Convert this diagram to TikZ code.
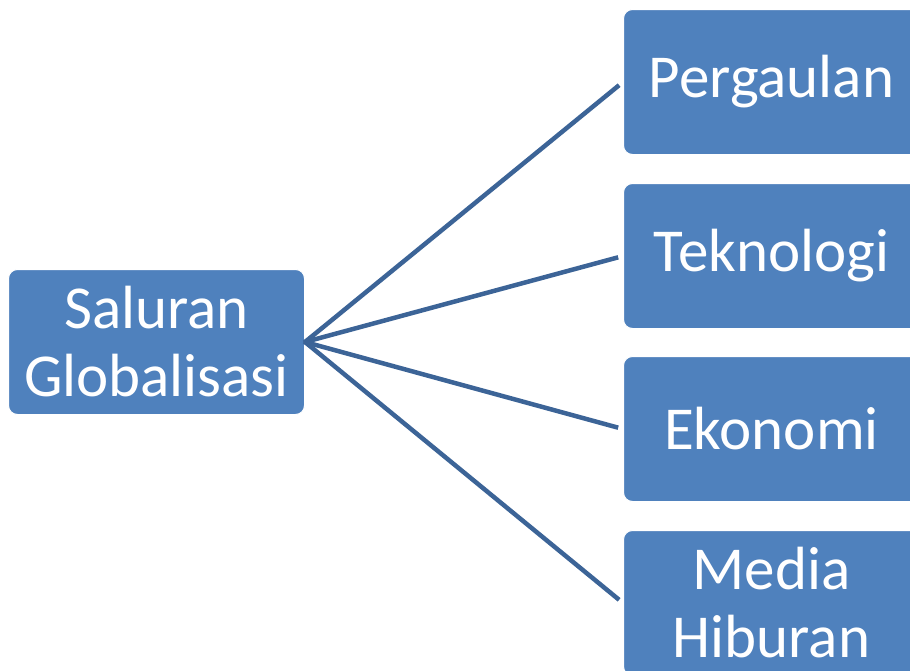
\documentclass[tikz,border=0pt]{standalone}
\usepackage{fontspec}
\setmainfont{Carlito}
\definecolor{boxblue}{HTML}{4F81BD}
\definecolor{linkblue}{HTML}{3C6497}
\begin{document}
\begin{tikzpicture}[x=1pt,y=-1pt,
  box/.style={draw=white,line width=1pt,fill=boxblue,rounded corners=9pt,text=white,
    minimum width=296pt,minimum height=145pt,inner sep=0pt,align=center,
    font=\fontsize{61}{68}\selectfont},
  link/.style={draw=linkblue,line width=4.5pt}]
\useasboundingbox (0,0) rectangle (910,670);
\clip (0,0) rectangle (910,670);
\node[box,anchor=north west] (src) at (8,269) {Saluran\\Globalisasi};
\node[box,anchor=north west] (a) at (623,9) {Pergaulan};
\node[box,anchor=north west] (b) at (623,183) {Teknologi};
\node[box,anchor=north west] (c) at (623,356) {Ekonomi};
\node[box,anchor=north west] (d) at (623,530) {Media\\Hiburan};
\foreach \t in {a,b,c,d}
  \draw[link,shorten <=-1pt,shorten >=5pt] (src.east) -- (\t.west);
\end{tikzpicture}
\end{document}
